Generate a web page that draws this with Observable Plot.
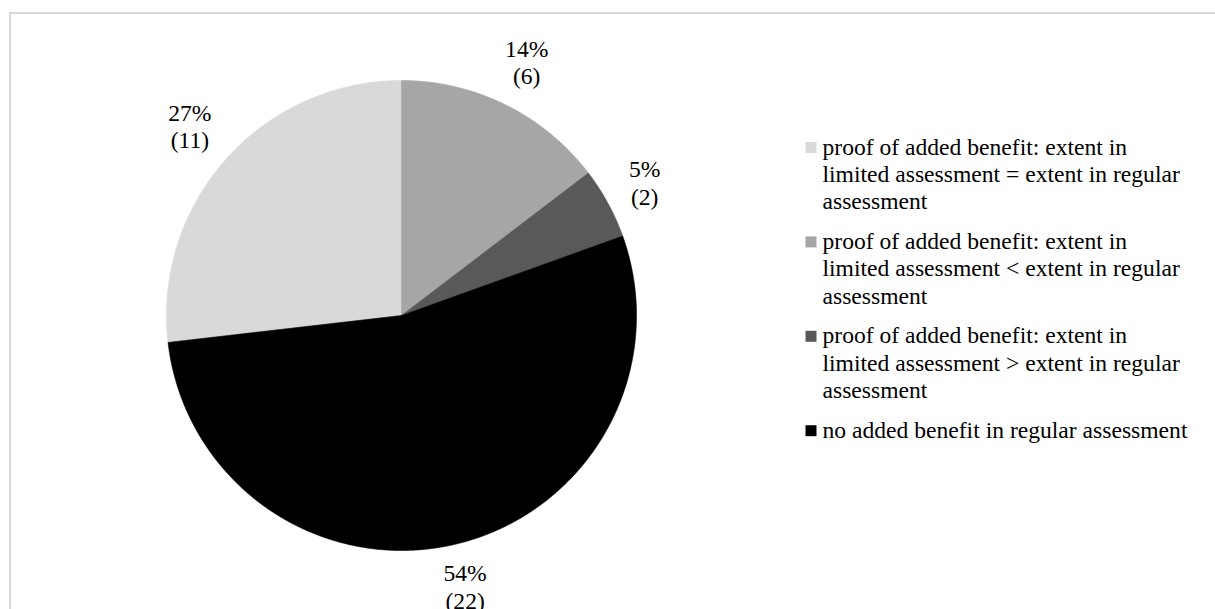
<!DOCTYPE html>
<html>
<head>
<meta charset="utf-8">
<script src="https://cdn.jsdelivr.net/npm/d3@7"></script>
<script src="https://cdn.jsdelivr.net/npm/@observablehq/plot@0.6"></script>
<style>
  html, body { margin: 0; padding: 0; background: #ffffff; overflow: hidden; }
  #wrap { position: relative; width: 1215px; height: 609px; overflow: hidden; background: #ffffff; }
  #chart { position: absolute; left: 0; top: 0; }
  #border { position: absolute; left: 9px; top: 12px; width: 1400px; height: 800px;
            border-top: 2px solid #d9d9d9; border-left: 2px solid #d9d9d9; pointer-events: none; }
</style>
</head>
<body>
<div id="wrap"><div id="chart"></div><div id="border"></div></div>
<script>
// ---- data ----
const categories = [
  "proof of added benefit: extent in limited assessment = extent in regular assessment",
  "proof of added benefit: extent in limited assessment < extent in regular assessment",
  "proof of added benefit: extent in limited assessment > extent in regular assessment",
  "no added benefit in regular assessment"
];
const legendLabels = [
  ["proof of added benefit: extent in", "limited assessment = extent in regular", "assessment"],
  ["proof of added benefit: extent in", "limited assessment < extent in regular", "assessment"],
  ["proof of added benefit: extent in", "limited assessment > extent in regular", "assessment"],
  ["no added benefit in regular assessment"]
];
const counts = [11, 6, 2, 22];
const percents = [27, 14, 5, 54];

// ---- styles / layout ----
const palette = ["#d9d9d9", "#a6a6a6", "#595959", "#000000"];
const W = 1215, H = 609;
const CX = 401, CY = 315, R = 235;
const FONT = "Liberation Serif, DejaVu Serif, serif";
const FS = 23.6, LH = 27.4;
const LABEL_GAP = 17, LABEL_H = 46;
const LEG_X = 810.5, LEG_TEXT_X = 822, LEG_B0 = 154, LEG_STEP = 94.4;

const total = d3.sum(counts);
const rot = 2 * Math.PI * counts[0] / total; // first slice ends at 12 o'clock
const arcs = d3.pie().sort(null).value(d => d)
  .startAngle(-rot).endAngle(2 * Math.PI - rot)(counts);

const px = t => CX + R * Math.sin(t);
const py = t => CY - R * Math.cos(t);

const polys = arcs.map((a) => {
  const pts = [{x: CX, y: CY}];
  const n = Math.max(2, Math.ceil((a.endAngle - a.startAngle) / (Math.PI / 360)));
  for (let k = 0; k <= n; k++) {
    const t = a.startAngle + (a.endAngle - a.startAngle) * k / n;
    pts.push({x: px(t), y: py(t)});
  }
  pts.push({x: CX, y: CY});
  return pts;
});

// label placement: outside end, box just clear of the pie edge
const ctx = document.createElement("canvas").getContext("2d");
ctx.font = `${FS}px ${FONT}`;
const labelLines = [];
arcs.forEach((a, i) => {
  const lines = [`${percents[i]}%`, `(${counts[i]})`];
  const w = d3.max(lines, s => ctx.measureText(s).width);
  const mid = (a.startAngle + a.endAngle) / 2;
  const s = Math.sin(mid), c = Math.cos(mid);
  const d = R + LABEL_GAP + Math.abs(s) * w / 2 + Math.abs(c) * LABEL_H / 2;
  const xc = CX + d * s, yc = CY - d * c;
  lines.forEach((t, j) => labelLines.push({x: xc, y: yc - 6 + j * LH, text: t}));
});

const legendSquares = categories.map((c, i) => ({
  x: LEG_X, y: LEG_B0 + i * LEG_STEP - 7, color: palette[i]
}));
const legendText = [];
legendLabels.forEach((lines, i) => lines.forEach((t, j) =>
  legendText.push({x: LEG_TEXT_X, y: LEG_B0 + i * LEG_STEP + j * LH, text: t})));

const chart = Plot.plot({
  width: W, height: H,
  margin: 0,
  style: {fontFamily: FONT, background: "transparent", overflow: "visible"},
  x: {domain: [0, W], range: [0, W], axis: null},
  y: {domain: [0, H], range: [0, H], axis: null},
  color: {type: "identity"},
  marks: [
    ...polys.map((p, i) => Plot.line(p, {x: "x", y: "y", fill: palette[i], stroke: palette[i], strokeWidth: 0.6})),
    Plot.text(labelLines, {x: "x", y: "y", text: "text", textAnchor: "middle", lineAnchor: "bottom",
      fontSize: FS, fontFamily: FONT, fill: "#000000"}),
    Plot.dot(legendSquares, {x: "x", y: "y", symbol: "square", r: 6.2, fill: "color", stroke: null}),
    Plot.text(legendText, {x: "x", y: "y", text: "text", textAnchor: "start", lineAnchor: "bottom",
      fontSize: FS, fontFamily: FONT, fill: "#000000"})
  ]
});
chart.querySelectorAll("text").forEach(t => t.style.fontFamily = FONT);
document.getElementById("chart").appendChild(chart);
</script>
</body>
</html>
